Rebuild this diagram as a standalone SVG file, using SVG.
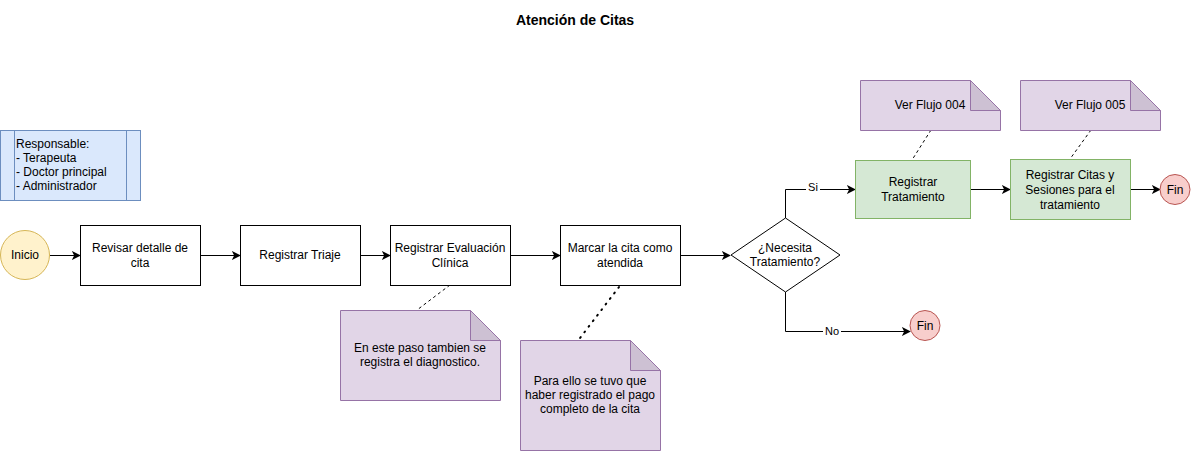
<svg xmlns="http://www.w3.org/2000/svg" width="1191" height="451" viewBox="0 0 1191 451">
<defs>
<marker id="arr" viewBox="0 0 10 10" refX="9" refY="5" markerWidth="9" markerHeight="9" markerUnits="userSpaceOnUse" orient="auto">
<path d="M0,0 L10,5 L0,10 L2.5,5 Z" fill="#000"/>
</marker>
<style>
text{font-family:"Liberation Sans",Arial,sans-serif;font-size:12px;fill:#000}
.c{text-anchor:middle}
.box{fill:#fff;stroke:#000;stroke-width:1}
.green{fill:#d5e8d4;stroke:#82b366;stroke-width:1}
.note{fill:#e1d5e7;stroke:#9673a6;stroke-width:1}
.fold{fill:#cdc1d3;stroke:#9673a6;stroke-width:1}
.fin{fill:#f8cecc;stroke:#b85450;stroke-width:1}
.edge{fill:none;stroke:#000;stroke-width:1;marker-end:url(#arr)}
.dash{fill:none;stroke:#000;stroke-width:1;stroke-dasharray:3 3}
.dot{fill:none;stroke:#000;stroke-width:2;stroke-dasharray:1 6;stroke-linecap:round}
</style>
</defs>
<rect width="1191" height="451" fill="#fff"/>
<text class="c" x="575" y="25" style="font-weight:bold;font-size:14px">Atención de Citas</text>

<g id="responsable">
<rect x="0.5" y="130.5" width="140" height="70" fill="#dae8fc" stroke="#6c8ebf"/>
<line x1="14.5" y1="130.5" x2="14.5" y2="200.5" stroke="#6c8ebf"/>
<line x1="126.5" y1="130.5" x2="126.5" y2="200.5" stroke="#6c8ebf"/>
<text x="16" y="148">Responsable:</text>
<text x="16" y="162">- Terapeuta</text>
<text x="16" y="176">- Doctor principal</text>
<text x="16" y="190">- Administrador</text>
</g>

<g id="connectors">
<line class="edge" x1="50" y1="255.5" x2="80" y2="255.5"/>
<line class="edge" x1="200" y1="255.5" x2="240" y2="255.5"/>
<line class="edge" x1="360" y1="255.5" x2="390" y2="255.5"/>
<line class="edge" x1="510" y1="255.5" x2="560" y2="255.5"/>
<line class="edge" x1="680" y1="255.5" x2="730" y2="255.5"/>
<path class="edge" d="M785.5,218 V189.5 H855"/>
<path class="edge" d="M785.5,292 V331.5 H910"/>
<line class="edge" x1="970" y1="189.5" x2="1010" y2="189.5"/>
<line class="edge" x1="1130" y1="189.5" x2="1160" y2="189.5"/>
<rect x="806" y="181" width="14" height="12" fill="#fff"/>
<text class="c" x="813" y="191" style="font-size:11px">Si</text>
<rect x="823" y="325" width="18" height="12" fill="#fff"/>
<text class="c" x="832" y="335" style="font-size:11px">No</text>
<line class="dash" x1="931" y1="130" x2="912" y2="160"/>
<line class="dash" x1="1091" y1="130" x2="1070" y2="159"/>
<line class="dash" x1="450" y1="285" x2="417" y2="310"/>
<line class="dot" x1="619" y1="287" x2="580" y2="338"/>
</g>

<g id="inicio">
<circle cx="25" cy="255" r="24.5" fill="#fff2cc" stroke="#d6b656"/>
<text class="c" x="25" y="259">Inicio</text>
</g>
<g id="revisar">
<rect class="box" x="80.5" y="225.5" width="120" height="60"/>
<text class="c" x="140" y="252">Revisar detalle de</text>
<text class="c" x="140" y="267">cita</text>
</g>
<g id="triaje">
<rect class="box" x="240.5" y="225.5" width="120" height="60"/>
<text class="c" x="300" y="259">Registrar Triaje</text>
</g>
<g id="evaluacion">
<rect class="box" x="390.5" y="225.5" width="120" height="60"/>
<text class="c" x="450" y="252">Registrar Evaluación</text>
<text class="c" x="450" y="267">Clínica</text>
</g>
<g id="marcar">
<rect class="box" x="560.5" y="225.5" width="120" height="60"/>
<text class="c" x="620" y="252">Marcar la cita como</text>
<text class="c" x="620" y="267">atendida</text>
</g>
<g id="decision">
<path d="M785.5,218 L840,255 L785.5,292 L731,255 Z" fill="#fff" stroke="#000"/>
<text class="c" x="785" y="252">¿Necesita</text>
<text class="c" x="785" y="266">Tratamiento?</text>
</g>
<g id="tratamiento">
<rect class="green" x="855.5" y="160.5" width="115" height="58"/>
<text class="c" x="913" y="186">Registrar</text>
<text class="c" x="913" y="201">Tratamiento</text>
</g>
<g id="citas">
<rect class="green" x="1010.5" y="159.5" width="120" height="60"/>
<text class="c" x="1070" y="179">Registrar Citas y</text>
<text class="c" x="1070" y="194">Sesiones para el</text>
<text class="c" x="1070" y="209">tratamiento</text>
</g>
<g id="fin1">
<circle cx="1175" cy="189.5" r="15" class="fin"/>
<text class="c" x="1175" y="194">Fin</text>
</g>
<g id="fin2">
<circle cx="925" cy="325.5" r="15" class="fin"/>
<text class="c" x="925" y="330">Fin</text>
</g>
<g id="note004">
<path class="note" d="M860.5,80.5 H970.5 L1000.5,110.5 V130.5 H860.5 Z"/>
<path class="fold" d="M970.5,80.5 V110.5 H1000.5 Z"/>
<text class="c" x="930" y="109">Ver Flujo 004</text>
</g>
<g id="note005">
<path class="note" d="M1020.5,80.5 H1130.5 L1160.5,110.5 V130.5 H1020.5 Z"/>
<path class="fold" d="M1130.5,80.5 V110.5 H1160.5 Z"/>
<text class="c" x="1090" y="109">Ver Flujo 005</text>
</g>
<g id="noteDiag">
<path class="note" d="M340.5,310.5 H470.5 L500.5,340.5 V400.5 H340.5 Z"/>
<path class="fold" d="M470.5,310.5 V340.5 H500.5 Z"/>
<text class="c" x="420" y="352">En este paso tambien se</text>
<text class="c" x="420" y="366">registra el diagnostico.</text>
</g>
<g id="notePago">
<path class="note" d="M520.5,340.5 H630.5 L660.5,370.5 V450.5 H520.5 Z"/>
<path class="fold" d="M630.5,340.5 V370.5 H660.5 Z"/>
<text class="c" x="590" y="385">Para ello se tuvo que</text>
<text class="c" x="590" y="399">haber registrado el pago</text>
<text class="c" x="590" y="413">completo de la cita</text>
</g>
</svg>
